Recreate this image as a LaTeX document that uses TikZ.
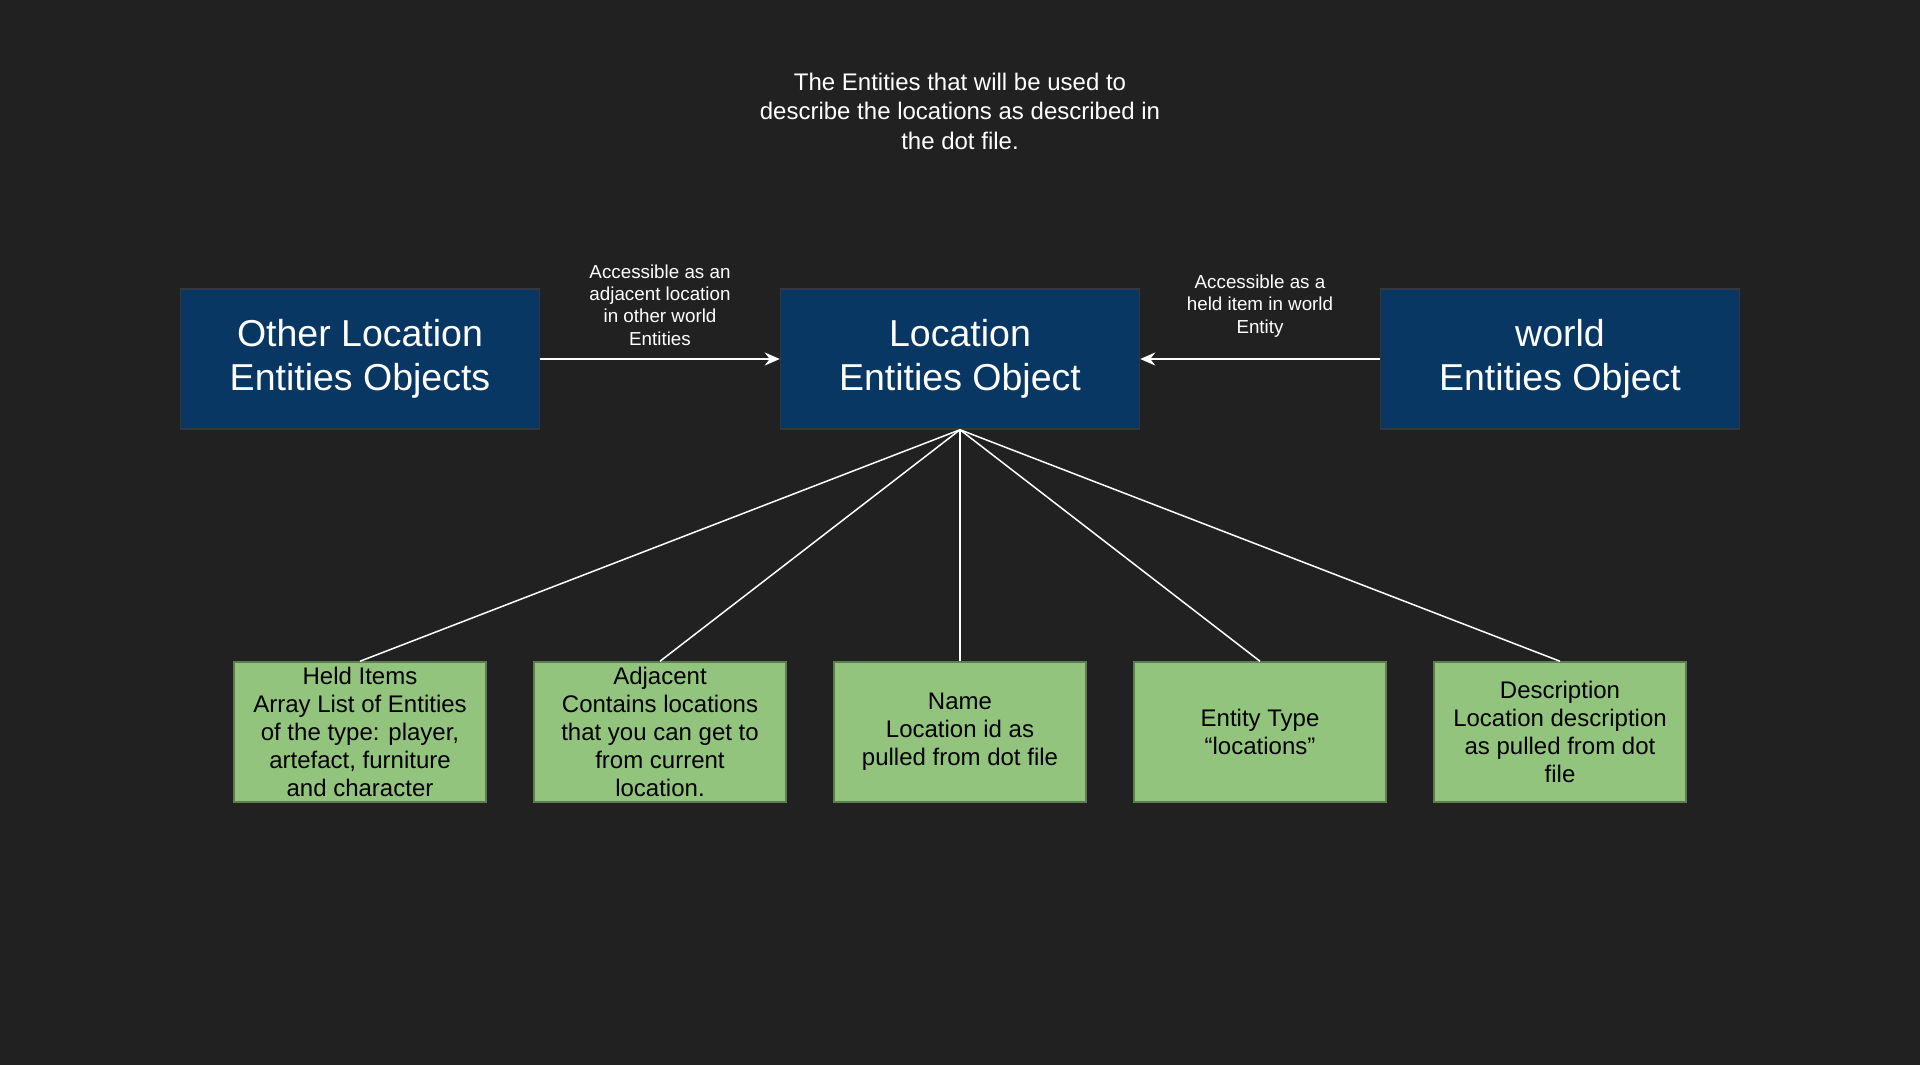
\documentclass[tikz,border=0pt]{standalone}
\usepackage{fontspec}
\setmainfont{Liberation Sans}
\usepackage{tikz}
\usetikzlibrary{positioning}
\usetikzlibrary{arrows.meta}
\definecolor{bgdark}{HTML}{212121}
\definecolor{entblue}{HTML}{083763}
\definecolor{entedge}{HTML}{34383D}
\definecolor{attrgreen}{HTML}{93C47D}
\definecolor{attredge}{HTML}{5E7D51}
\tikzstyle{entity} = [rectangle, draw=entedge, line width=1.5pt, fill=entblue,
    text=white, minimum width=359pt, minimum height=140pt, align=center,
    font=\fontsize{37.5}{44}\selectfont]
\tikzstyle{attr} = [rectangle, draw=attredge, line width=1.5pt, fill=attrgreen,
    text=black, minimum width=252pt, minimum height=140pt, align=center,
    font=\fontsize{24}{28}\selectfont]
\tikzstyle{lbl} = [text=white, align=center, font=\fontsize{18.8}{22.4}\selectfont]
\tikzstyle{link} = [draw=white, line width=2pt, -{Stealth[length=15pt,width=13pt,inset=5pt]}]
\tikzstyle{fan} = [draw=white, line width=1.5pt]

\begin{document}
\begin{tikzpicture}[x=1pt, y=-1pt, node distance=600pt]
  \fill [bgdark] (0,0) rectangle (1920,1065);
  \useasboundingbox (0,0) rectangle (1920,1065);

  \node [text=white, align=center, font=\fontsize{24}{29.5}\selectfont] (title) at (960,111)
    {The Entities that will be used to\\describe the locations as described in\\the dot file.};

  \node [entity] (loc) at (960,359) {Location\\Entities Object};
  \node [entity, left of=loc] (other) {Other Location\\Entities Objects};
  \node [entity, right of=loc] (world) {world\\Entities Object};

  \path [link] (other) -- node [lbl, yshift=54pt] {Accessible as an\\adjacent location\\in other world\\Entities} (loc);
  \path [link] (world) -- node [lbl, yshift=53pt] {Accessible as a\\held item in world\\Entity} (loc);

  \node [attr] (name) at (960,732) {Name\\Location id as\\pulled from dot file};
  \node [attr, left of=name, node distance=300pt] (adj) {Adjacent\\Contains locations\\that you can get to\\from current\\location.};
  \node [attr, left of=adj, node distance=300pt] (held) {Held Items\\Array List of Entities\\of the type: player,\\artefact, furniture\\and character};
  \node [attr, right of=name, node distance=300pt] (etype) {Entity Type\\``locations''};
  \node [attr, right of=etype, node distance=300pt] (desc) {Description\\Location description\\as pulled from dot\\file};

  \foreach \a in {held, adj, name, etype, desc}
    \path [fan] (loc.south) -- (\a.north);

\end{tikzpicture}
\end{document}
